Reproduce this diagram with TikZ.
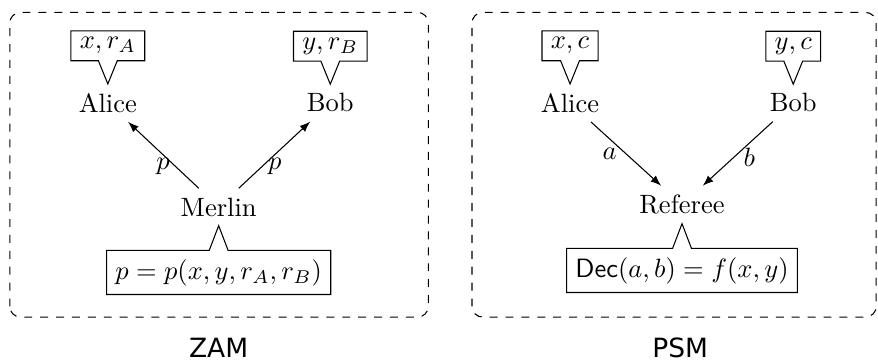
\documentclass[tikz,border=0pt]{standalone}
\usepackage{amsmath}
\usepackage{fontspec}
\usepackage{tikz}
\usetikzlibrary{shapes.callouts}
\usetikzlibrary{positioning}
\newfontfamily\capfont{DejaVu Sans}
\tikzset{
  says/.style={rectangle callout,draw,callout absolute pointer={#1}},
  input/.style={inner ysep=2.5pt},
  panel/.style={dashed,rounded corners=4pt},
  msg/.style={-latex}
}
\begin{document}
\begin{tikzpicture}
      \useasboundingbox (0,0) rectangle (11.644,4.775);
      \begin{scope}[xshift=0cm]
        \draw[panel] (0.13,0.57) rectangle (5.68,4.61);
        \node (alice) at (1.43,3.41) {Alice};
        \node (bob) at (4.38,3.41) {Bob};
        \node (merlin) at (2.90,2.03) {Merlin};
        \node[says={(alice.north)},input,above=0.3cm of alice] (alicein) {$x,r_A$};
        \node[says={(bob.north)},input,above=0.3cm of bob] (bobin) {$y,r_B$};
        \node[says={(merlin.south)},below=0.32cm of merlin] (proof) {$p=p(x,y,r_A,r_B)$};
        \draw[msg] (merlin) -- node[pos=0.33,left,inner xsep=2pt] {$p$} (alice);
        \draw[msg] (merlin) -- node[pos=0.33,right,inner xsep=2pt] {$p$} (bob);
        \node[font=\capfont] (zam) at (2.90,0.16) {ZAM};
      \end{scope}
      \begin{scope}[xshift=6.13cm]
        \draw[panel] (0.13,0.57) rectangle (5.49,4.61);
        \node (alice) at (1.43,3.41) {Alice};
        \node (bob) at (4.39,3.41) {Bob};
        \node (referee) at (2.915,2.06) {Referee};
        \node[says={(alice.north)},input,above=0.3cm of alice] (alicein) {$x,c$};
        \node[says={(bob.north)},input,above=0.3cm of bob] (bobin) {$y,c$};
        \node[says={(referee.south)},below=0.32cm of referee] (decide) {$\mathsf{Dec}(a,b)=f(x,y)$};
        \draw[msg] (alice) -- node[pos=0.5,left] {$a$} (referee);
        \draw[msg] (bob) -- node[pos=0.55,right] {$b$} (referee);
        \node[font=\capfont] (psm) at (2.89,0.16) {PSM};
      \end{scope}
    \end{tikzpicture}
\end{document}
